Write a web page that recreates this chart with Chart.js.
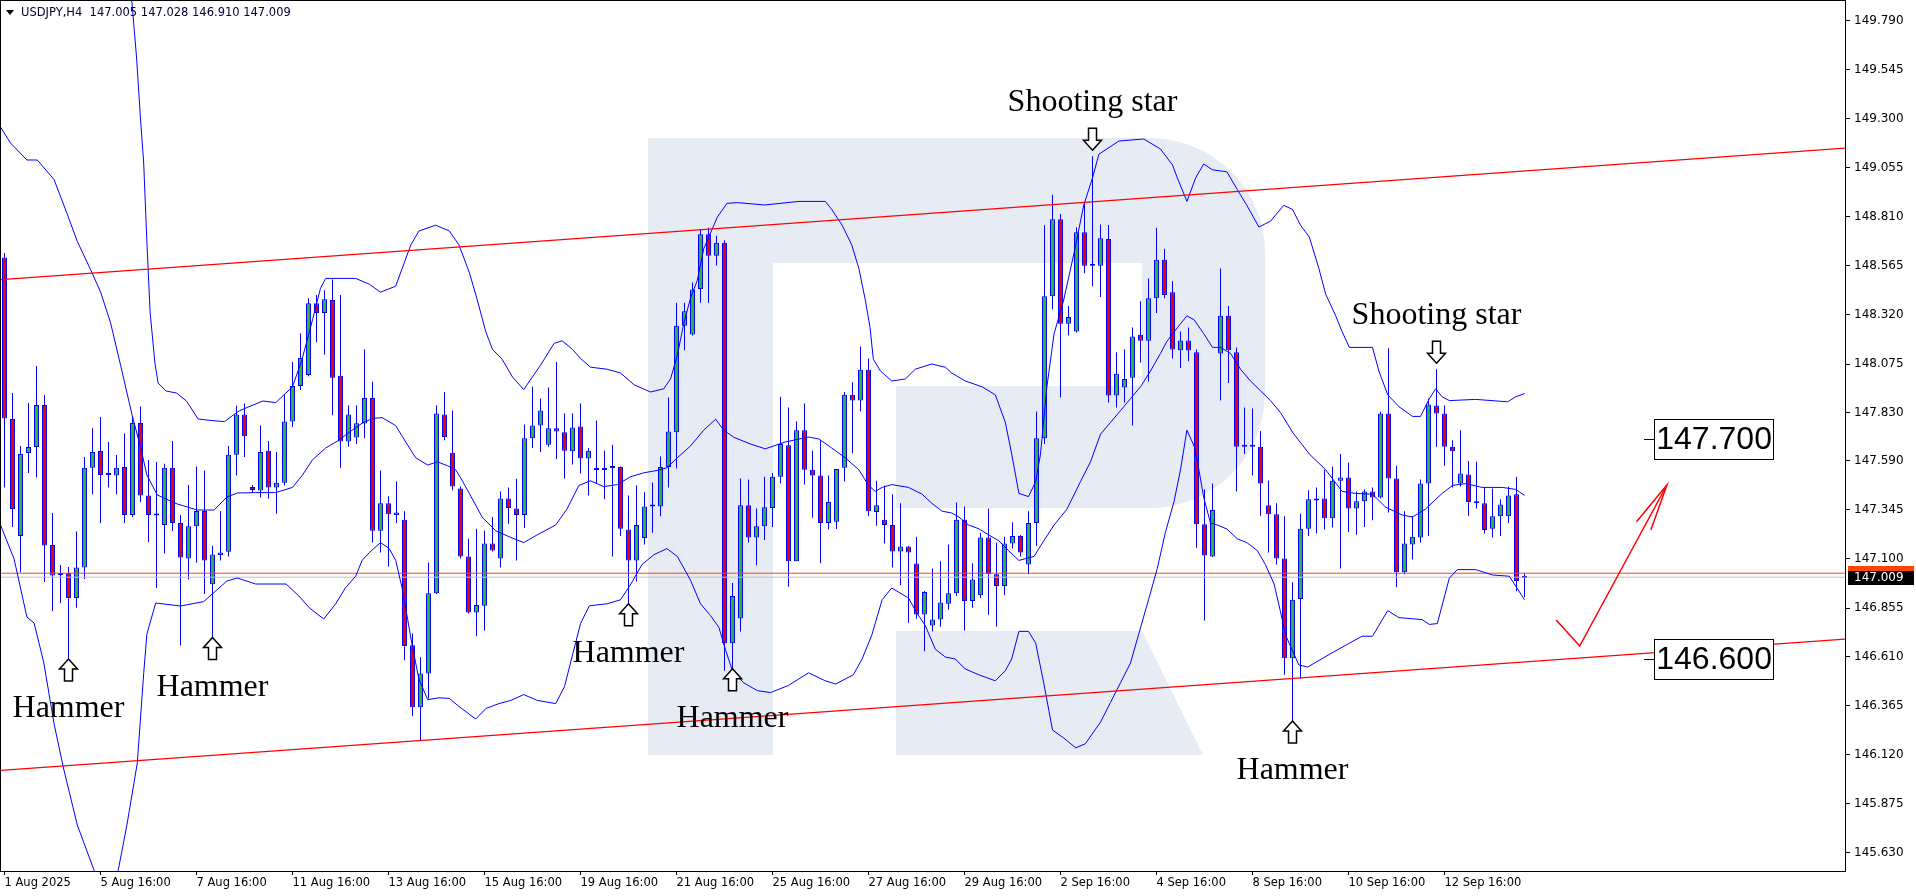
<!DOCTYPE html>
<html>
<head>
<meta charset="utf-8">
<title>USDJPY H4</title>
<script src="https://cdn.jsdelivr.net/npm/chart.js@4.4.1/dist/chart.umd.min.js"></script>
<style>
  html, body { margin: 0; padding: 0; background: #fff; }
  #chart { display: block; }
</style>
</head>
<body>
<canvas id="chart" width="1916" height="896"></canvas>
<script>
// header of the chart window
const symbolTitle = 'USDJPY,H4  147.005 147.028 146.910 147.009';

// time axis: one label every 12 bars
const dateLabels = ['1 Aug 2025', '5 Aug 16:00', '7 Aug 16:00', '11 Aug 16:00', '13 Aug 16:00', '15 Aug 16:00',
  '19 Aug 16:00', '21 Aug 16:00', '25 Aug 16:00', '27 Aug 16:00', '29 Aug 16:00', '2 Sep 16:00',
  '4 Sep 16:00', '8 Sep 16:00', '10 Sep 16:00', '12 Sep 16:00'];
const dateLabelBars = [0, 12, 24, 36, 48, 60, 72, 84, 96, 108, 120, 132, 144, 156, 168, 180];

// price axis
const yTickValues = [149.790, 149.545, 149.300, 149.055, 148.810, 148.565, 148.320, 148.075, 147.830,
  147.590, 147.345, 147.100, 146.855, 146.610, 146.365, 146.120, 145.875, 145.630];

// H4 candles, bar 0 .. 190
const opens = [
  148.608, 147.80, 147.215, 147.63, 147.66, 147.87, 147.17, 147.02, 147.03, 146.905,
  147.057, 147.556, 147.64, 147.52, 147.517, 147.56, 147.32, 147.78, 147.418, 147.32,
  147.27, 147.556, 147.28, 147.103, 147.264, 147.34, 146.974, 147.12, 147.136, 147.621,
  147.823, 147.46, 147.442, 147.641, 147.458, 147.481, 147.787, 147.965, 148.02, 148.379,
  148.33, 148.395, 148.016, 147.688, 147.708, 147.777, 147.905, 147.241, 147.379, 147.32,
  147.296, 146.669, 146.359, 146.527, 146.929, 147.823, 147.631, 147.452, 147.113, 146.832,
  146.866, 147.178, 147.103, 147.403, 147.353, 147.32, 147.704, 147.767, 147.671, 147.754,
  147.734, 147.639, 147.763, 147.602, 147.55, 147.545, 147.555, 147.56, 147.247, 147.093,
  147.205, 147.363, 147.363, 147.56, 147.734, 148.266, 148.223, 148.45, 148.724, 148.616,
  148.681, 146.679, 146.803, 147.369, 147.207, 147.264, 147.355, 147.511, 147.669, 147.089,
  147.744, 147.546, 147.517, 147.28, 147.286, 147.556, 147.921, 147.892, 148.046, 147.335,
  147.296, 147.27, 147.138, 147.162, 147.077, 146.823, 146.767, 146.797, 146.876, 146.929,
  147.296, 146.89, 146.919, 147.207, 147.024, 146.965, 147.178, 147.215, 147.073, 147.28,
  147.704, 148.414, 148.799, 148.276, 148.237, 148.734, 148.566, 148.566, 148.70, 147.917,
  147.957, 148.006, 148.221, 148.191, 148.404, 148.596, 148.434, 148.144, 148.193, 148.134,
  147.274, 147.113, 148.128, 148.316, 148.134, 147.661, 147.671, 147.661, 147.369, 147.324,
  147.103, 146.604, 146.90, 147.251, 147.393, 147.403, 147.304, 147.491, 147.507, 147.353,
  147.389, 147.438, 147.408, 147.827, 147.503, 147.034, 147.172, 147.207, 147.477, 147.868,
  147.827, 147.661, 147.477, 147.523, 147.379, 147.379, 147.251, 147.314, 147.314, 147.424,
  147.005
];
const highs = [
  148.63, 147.93, 147.665, 147.88, 148.065, 147.92, 147.33, 147.07, 147.06, 147.237,
  147.61, 147.754, 147.81, 147.685, 147.62, 147.728, 147.81, 147.862, 147.595, 147.585,
  147.576, 147.69, 147.32, 147.47, 147.562, 147.543, 147.166, 147.34, 147.665, 147.866,
  147.878, 147.47, 147.767, 147.69, 147.635, 147.921, 148.085, 148.227, 148.404, 148.42,
  148.444, 148.497, 148.42, 147.868, 147.868, 148.148, 147.986, 147.543, 147.414, 147.487,
  147.339, 146.728, 146.61, 147.083, 147.868, 147.935, 147.842, 147.462, 147.201, 147.251,
  147.241, 147.31, 147.438, 147.458, 147.501, 147.773, 147.961, 147.902, 147.957, 148.085,
  147.827, 147.827, 147.878, 147.655, 147.793, 147.641, 147.671, 147.562, 147.418, 147.468,
  147.434, 147.483, 147.612, 147.907, 148.381, 148.381, 148.483, 148.75, 148.756, 148.716,
  148.694, 146.98, 147.503, 147.497, 147.353, 147.511, 147.53, 147.911, 147.858, 147.787,
  147.878, 147.641, 147.694, 147.517, 147.55, 147.935, 147.984, 148.162, 148.103, 147.491,
  147.468, 147.424, 147.379, 147.165, 147.211, 146.94, 147.053, 147.089, 147.172, 147.383,
  147.363, 147.079, 147.231, 147.353, 147.182, 147.211, 147.284, 147.22, 147.339, 147.838,
  148.769, 148.921, 148.825, 148.365, 148.759, 148.888, 149.114, 148.773, 148.77, 148.134,
  148.148, 148.257, 148.389, 148.503, 148.756, 148.651, 148.489, 148.237, 148.257, 148.148,
  147.448, 147.477, 148.552, 148.365, 148.158, 147.858, 147.852, 147.74, 147.493, 147.379,
  147.314, 146.984, 147.326, 147.444, 147.458, 147.546, 147.562, 147.625, 147.582, 147.438,
  147.448, 147.458, 147.836, 148.154, 147.566, 147.339, 147.314, 147.497, 147.902, 148.049,
  147.868, 147.694, 147.744, 147.59, 147.586, 147.458, 147.452, 147.399, 147.462, 147.511,
  147.028
];
const lows = [
  147.458, 147.26, 147.034, 147.53, 147.507, 146.985, 146.84, 146.88, 146.59, 146.856,
  147.0, 147.424, 147.28, 147.458, 147.424, 147.28, 147.31, 147.385, 147.185, 146.955,
  147.128, 147.24, 146.668, 146.998, 147.083, 146.925, 146.698, 147.093, 147.113, 147.517,
  147.61, 147.43, 147.408, 147.403, 147.326, 147.468, 147.76, 147.945, 148.014, 148.184,
  148.122, 147.819, 147.556, 147.661, 147.675, 147.704, 147.182, 147.132, 147.063, 147.28,
  146.594, 146.314, 146.19, 146.403, 146.925, 147.694, 147.444, 147.103, 146.827, 146.714,
  146.742, 147.138, 147.057, 147.276, 147.093, 147.255, 147.655, 147.635, 147.661, 147.6,
  147.503, 147.572, 147.527, 147.418, 147.477, 147.399, 147.113, 147.215, 146.866, 146.988,
  147.172, 147.231, 147.314, 147.458, 147.552, 148.144, 148.217, 148.381, 148.381, 148.568,
  146.541, 146.541, 146.738, 147.182, 147.069, 147.195, 147.26, 147.477, 146.961, 147.089,
  147.472, 147.306, 147.079, 147.247, 147.25, 147.487, 147.629, 147.838, 147.314, 147.266,
  147.178, 147.057, 146.969, 146.781, 146.801, 146.639, 146.738, 146.761, 146.846, 146.915,
  146.742, 146.856, 146.905, 146.821, 146.763, 146.919, 147.152, 147.113, 147.024, 147.166,
  147.675, 148.349, 147.907, 148.217, 148.233, 148.529, 148.464, 148.41, 147.882, 147.858,
  147.882, 147.767, 148.083, 147.986, 148.33, 148.404, 148.103, 148.055, 148.089, 147.156,
  146.793, 147.11, 147.892, 147.98, 147.438, 147.625, 147.517, 147.316, 147.132, 147.073,
  146.521, 146.28, 146.501, 147.215, 147.227, 147.247, 147.257, 147.053, 147.235, 147.221,
  147.26, 147.294, 147.403, 147.333, 146.959, 147.024, 147.097, 147.182, 147.215, 147.661,
  147.566, 147.458, 147.462, 147.316, 147.353, 147.227, 147.207, 147.215, 147.28, 146.939,
  146.91
];
const closes = [
  147.803, 147.35, 147.625, 147.66, 147.87, 147.168, 147.018, 147.03, 146.905, 147.057,
  147.556, 147.635, 147.52, 147.522, 147.556, 147.32, 147.78, 147.418, 147.32, 147.318,
  147.556, 147.28, 147.108, 147.264, 147.34, 147.093, 147.122, 147.132, 147.621, 147.823,
  147.714, 147.445, 147.635, 147.458, 147.481, 147.787, 147.965, 148.105, 148.379, 148.33,
  148.399, 148.006, 147.688, 147.823, 147.779, 147.905, 147.241, 147.379, 147.324, 147.333,
  146.665, 146.359, 146.527, 146.929, 147.827, 147.71, 147.462, 147.113, 146.832, 146.87,
  147.178, 147.142, 147.403, 147.355, 147.32, 147.704, 147.767, 147.842, 147.754, 147.738,
  147.641, 147.758, 147.602, 147.641, 147.545, 147.555, 147.56, 147.251, 147.093, 147.27,
  147.363, 147.365, 147.56, 147.738, 148.266, 148.339, 148.448, 148.724, 148.616, 148.681,
  146.679, 146.915, 147.369, 147.207, 147.264, 147.359, 147.511, 147.675, 147.089, 147.744,
  147.546, 147.517, 147.28, 147.385, 147.55, 147.921, 147.892, 148.046, 147.339, 147.369,
  147.27, 147.138, 147.162, 147.132, 146.823, 146.935, 146.797, 146.882, 146.929, 147.296,
  146.89, 146.998, 147.207, 147.024, 146.965, 147.178, 147.215, 147.132, 147.28, 147.704,
  148.414, 148.799, 148.276, 148.31, 148.734, 148.566, 148.568, 148.704, 147.917, 148.026,
  148.0, 148.213, 148.191, 148.404, 148.596, 148.42, 148.148, 148.193, 148.142, 147.274,
  147.118, 147.345, 148.316, 148.144, 147.661, 147.671, 147.661, 147.477, 147.324, 147.103,
  146.604, 146.896, 147.251, 147.399, 147.403, 147.304, 147.491, 147.507, 147.353, 147.389,
  147.438, 147.408, 147.827, 147.503, 147.034, 147.178, 147.211, 147.477, 147.872, 147.828,
  147.661, 147.639, 147.527, 147.385, 147.389, 147.245, 147.314, 147.373, 147.418, 146.99,
  147.009
];

// Bollinger bands as [bar, price]
const upperBand = [
  [-0.5, 151.2], [4, 151.41], [8, 151.6], [12, 151.5], [14, 150.85], [15, 150.3], [16, 149.85], [16.5, 149.61],
  [17, 149.3], [17.4, 149.08], [17.75, 148.73], [18.2, 148.335], [18.8, 148.08], [19.2, 147.98], [20.2, 147.94],
  [21.5, 147.93], [22.75, 147.89], [24.2, 147.8], [25.7, 147.793], [27.5, 147.787], [28.6, 147.82], [29.4, 147.842],
  [32.3, 147.89], [33.9, 147.882], [36, 147.961], [37.2, 148.099], [38.5, 148.296], [39.5, 148.454], [40.15, 148.503],
  [43.9, 148.503], [45.6, 148.474], [47, 148.434], [48.9, 148.464], [49.7, 148.552], [50.8, 148.671], [51.8, 148.74],
  [53.9, 148.769], [55.6, 148.74], [56.8, 148.671], [58.1, 148.533], [59.1, 148.395], [60.15, 148.237], [61, 148.148],
  [62.2, 148.099], [63.5, 148.01], [64.9, 147.947], [67, 148.069], [68.7, 148.178], [69.7, 148.191], [71, 148.148],
  [72, 148.103], [73.25, 148.059], [75.3, 148.049], [77, 148.03], [78.7, 147.971], [80.75, 147.935], [82.4, 147.951],
  [83.25, 148.0], [84.1, 148.118], [84.9, 148.276], [85.75, 148.404], [86.6, 148.493], [87.4, 148.651], [88.25, 148.73],
  [89.1, 148.809], [90.3, 148.878], [91.6, 148.882], [95, 148.87], [99.3, 148.888], [102.6, 148.888], [103.4, 148.848],
  [104.7, 148.769], [105.9, 148.671], [106.8, 148.552], [107.6, 148.395], [108.2, 148.256], [108.6, 148.099],
  [109.5, 148.04], [110.9, 147.99], [112.6, 148.0], [113.85, 148.049], [115.9, 148.075], [117.6, 148.059],
  [118.4, 148.03], [120.1, 147.99], [122.2, 147.961], [123.85, 147.921], [125.1, 147.783], [125.9, 147.625],
  [126.8, 147.428], [128, 147.412], [128.9, 147.487], [129.5, 147.625], [130.3, 147.961], [131.2, 148.227],
  [132.4, 148.395], [133.7, 148.631], [134.9, 148.868], [136, 149.006], [136.8, 149.124], [139.3, 149.19],
  [142.4, 149.2], [144.5, 149.15], [146, 149.07], [146.6, 149.006], [147.8, 148.888], [148.9, 149.006],
  [149.9, 149.075], [151, 149.046], [152.8, 149.036], [154.1, 148.947], [155.3, 148.868], [156.8, 148.76],
  [158.25, 148.789], [159.9, 148.868], [161, 148.848], [162, 148.769], [163.1, 148.71], [164.3, 148.552],
  [165.15, 148.424], [166.4, 148.316], [167.2, 148.237], [168.1, 148.158], [171, 148.158], [171.8, 148.04],
  [172.9, 147.921], [174.3, 147.862], [176, 147.813], [177, 147.813], [178.1, 147.901], [178.9, 147.951],
  [179.7, 147.911], [180.6, 147.892], [183.9, 147.898], [187.9, 147.886], [188.9, 147.911], [190, 147.927]
];
const middleBand = [
  [-0.5, 149.26], [0.75, 149.18], [2.8, 149.095], [4.1, 149.095], [6.2, 148.997], [7.8, 148.829], [9.1, 148.688],
  [10.75, 148.548], [12, 148.436], [13.25, 148.282], [14.5, 148.071], [15.95, 147.819], [17, 147.66], [17.8, 147.52],
  [19.1, 147.42], [21.6, 147.375], [24.1, 147.345], [26.2, 147.345], [27.8, 147.41], [29.1, 147.43], [31.4, 147.432],
  [33.9, 147.432], [36, 147.458], [37.2, 147.517], [38.5, 147.596], [40.15, 147.655], [41.8, 147.694], [43.1, 147.734],
  [44.7, 147.779], [46, 147.803], [47.2, 147.807], [48.9, 147.767], [50.15, 147.685], [51.4, 147.606], [52.9, 147.57],
  [54.1, 147.586], [55.4, 147.566], [56.4, 147.546], [57, 147.507], [58.1, 147.428], [59.7, 147.31], [61.4, 147.241],
  [63.1, 147.211], [64.9, 147.182], [66.6, 147.221], [68.9, 147.27], [70.3, 147.349], [71.8, 147.468], [73.25, 147.491],
  [74.9, 147.462], [76.6, 147.472], [78.25, 147.511], [79.9, 147.531], [81.6, 147.543], [82.8, 147.556], [84.1, 147.606],
  [85.75, 147.665], [87.4, 147.744], [88.9, 147.799], [89.9, 147.744], [91.2, 147.708], [93.25, 147.675], [95.1, 147.651],
  [97.6, 147.685], [100.5, 147.71], [101.8, 147.7], [103.4, 147.655], [105.1, 147.606], [106.8, 147.546], [108, 147.468],
  [108.85, 147.438], [109.7, 147.458], [110.9, 147.472], [113, 147.458], [114.7, 147.424], [115.9, 147.379],
  [117.2, 147.339], [118.4, 147.33], [119.3, 147.31], [120.5, 147.27], [121.8, 147.251], [123, 147.221], [124.3, 147.191],
  [125.5, 147.142], [126.8, 147.093], [128.7, 147.113], [129.9, 147.191], [131.2, 147.27], [132.8, 147.349],
  [134.5, 147.487], [135.75, 147.586], [137, 147.724], [138.25, 147.783], [139.5, 147.842], [140.75, 147.902],
  [142, 147.961], [143.25, 148.04], [144.5, 148.128], [145.3, 148.188], [146.6, 148.256], [147.8, 148.316],
  [148.7, 148.296], [149.9, 148.227], [151, 148.158], [152, 148.158], [153.25, 148.128], [154.5, 148.049],
  [155.75, 147.99], [157, 147.941], [158.25, 147.892], [159.5, 147.832], [161, 147.734], [163.1, 147.625],
  [165.15, 147.546], [167.2, 147.438], [168.9, 147.428], [171, 147.424], [172.65, 147.359], [174.7, 147.32],
  [176, 147.31], [177.6, 147.349], [179.7, 147.428], [181, 147.468], [182.65, 147.477], [184.7, 147.458],
  [187.2, 147.458], [188.9, 147.448], [190, 147.418]
];
const lowerBand = [
  [-0.5, 147.27], [1.2, 147.1], [2.8, 146.81], [3.7, 146.78], [4.9, 146.584], [6.2, 146.275], [7.4, 146.05],
  [9.1, 145.77], [11.6, 145.5], [12.8, 145.4], [14.1, 145.52], [15.3, 145.77], [16.6, 146.08], [17.4, 146.528],
  [17.8, 146.725], [18.9, 146.88], [22, 146.865], [24.9, 146.887], [27.8, 146.99], [29.1, 147.005], [31.4, 146.975],
  [35.2, 146.975], [36.8, 146.915], [38.1, 146.856], [39.9, 146.8], [41.4, 146.876], [42.6, 146.955], [43.9, 147.014],
  [44.7, 147.093], [45.6, 147.132], [47, 147.182], [48.1, 147.152], [48.9, 147.093], [49.7, 146.955], [50.4, 146.797],
  [51, 146.659], [51.8, 146.5], [52.9, 146.397], [54.3, 146.406], [55.6, 146.403], [56.8, 146.363], [58.9, 146.3],
  [60.2, 146.353], [61.8, 146.377], [63.3, 146.393], [64.9, 146.422], [66.6, 146.393], [68.9, 146.377], [70, 146.462],
  [71, 146.62], [72, 146.777], [73.1, 146.866], [75.3, 146.876], [77, 146.896], [78.3, 146.975], [79.7, 147.073],
  [81.2, 147.122], [82.8, 147.152], [84.1, 147.113], [85.75, 146.994], [87, 146.876], [88.25, 146.817], [89.3, 146.758],
  [90.1, 146.649], [91, 146.54], [92.4, 146.481], [94.1, 146.442], [95.75, 146.432], [98, 146.468], [100.5, 146.531],
  [102.6, 146.491], [103.9, 146.475], [106.1, 146.521], [107.2, 146.6], [108.4, 146.718], [109.7, 146.896],
  [110.9, 146.955], [113, 146.905], [114.1, 146.827], [115.1, 146.767], [116.35, 146.649], [117.6, 146.61],
  [118.85, 146.6], [120.1, 146.55], [121.8, 146.521], [123.85, 146.491], [125.1, 146.541], [125.9, 146.6],
  [126.8, 146.738], [128, 146.738], [128.9, 146.679], [129.9, 146.481], [131, 146.245], [132.4, 146.205],
  [133.9, 146.156], [135.1, 146.176], [137, 146.284], [138.25, 146.383], [139.5, 146.481], [140.75, 146.58],
  [141.8, 146.728], [143, 146.896], [144.1, 147.053], [145.1, 147.231], [146.2, 147.389], [147, 147.546],
  [147.8, 147.744], [148.7, 147.665], [149.3, 147.546], [149.9, 147.408], [150.75, 147.28], [151.6, 147.27],
  [152.8, 147.25], [154.1, 147.201], [155.3, 147.182], [156.6, 147.142], [157.6, 147.073], [158.7, 146.975],
  [159.5, 146.836], [160.15, 146.718], [161.8, 146.57], [162.9, 146.56], [165.6, 146.623], [167.2, 146.659],
  [169.7, 146.714], [171, 146.714], [172.9, 146.842], [174.3, 146.807], [177.2, 146.797], [178.1, 146.773],
  [179.1, 146.777], [180.6, 147.004], [181.6, 147.047], [183.9, 147.047], [186, 147.02], [188.1, 147.014],
  [188.9, 146.965], [190, 146.896]
];

// hand drawn channel, forecast arrow and levels
const channelTop = [[-0.5, 148.497], [230.2, 149.155]];
const channelBottom = [[-0.5, 146.043], [230.2, 146.70]];
const forecastPath = [[193.96, 146.795], [196.9, 146.665], [207.8, 147.47]];
const forecastHead = [[204.0, 147.286], [207.8, 147.47], [205.8, 147.245]];
const targetLevels = ['147.700', '146.600'];
const bidPrice = 147.009;
const askPrice = 147.029;

// candlestick patterns marked on the chart
const hammerBars = [8, 26, 78, 91, 161];
const shootingStarBars = [136, 179];

const BLUE = '#0000ff';
const BULL = '#2eb52e';
const BEAR = '#ee0000';
const X_MIN = -0.4375, X_MAX = 230.0625;
const Y_MIN = 145.54, Y_MAX = 149.89;

const toXY = pts => pts.map(([x, y]) => ({x: x, y: y}));
const barIdx = opens.map((o, i) => i);

function hollowArrow(ctx, cx, tipY, dir) {
  const shape = [[0, 0], [9, 10], [4, 10], [4, 22], [-4, 22], [-4, 10], [-9, 10]];
  ctx.beginPath();
  shape.forEach(([dx, dy], k) => {
    const px = cx + dx, py = tipY + dir * dy;
    if (k === 0) ctx.moveTo(px, py); else ctx.lineTo(px, py);
  });
  ctx.closePath();
  ctx.fillStyle = '#fff';
  ctx.fill();
  ctx.lineWidth = 1.5;
  ctx.strokeStyle = '#000';
  ctx.stroke();
}

// broker logo in the background
const watermark = {
  id: 'watermark',
  beforeDatasetsDraw(chart) {
    const c = chart.ctx;
    c.save();
    c.fillStyle = '#e7ebf3';
    c.fillRect(648, 138, 125, 617);
    c.beginPath();
    c.moveTo(773, 138);
    c.lineTo(1150, 138);
    c.arcTo(1265, 138, 1265, 253, 115);
    c.lineTo(1265, 393);
    c.arcTo(1265, 508, 1150, 508, 115);
    c.lineTo(896, 508);
    c.lineTo(896, 386);
    c.lineTo(1142, 386);
    c.lineTo(1142, 263);
    c.lineTo(773, 263);
    c.closePath();
    c.fill();
    c.beginPath();
    c.moveTo(896, 631);
    c.lineTo(1142, 631);
    c.lineTo(1203, 755);
    c.lineTo(896, 755);
    c.closePath();
    c.fill();
    c.restore();
  }
};

const overlay = {
  id: 'overlay',
  afterDatasetsDraw(chart) {
    const {ctx, scales: {x, y}} = chart;
    ctx.save();
    ctx.font = '32px "Liberation Serif"';
    ctx.textAlign = 'center';
    ctx.textBaseline = 'middle';
    hammerBars.forEach(i => {
      const px = x.getPixelForValue(i), py = y.getPixelForValue(lows[i]);
      hollowArrow(ctx, px, py - 2, 1);
      ctx.fillStyle = '#000';
      ctx.fillText('Hammer', px, py + 48);
    });
    shootingStarBars.forEach(i => {
      const px = x.getPixelForValue(i), py = y.getPixelForValue(highs[i]);
      hollowArrow(ctx, px, py - 6, -1);
      ctx.fillStyle = '#000';
      ctx.fillText('Shooting star', px, py - 54);
    });
    // target level boxes
    ctx.font = '32px "Liberation Sans"';
    targetLevels.forEach(v => {
      const left = x.getPixelForValue(206.2), py = y.getPixelForValue(parseFloat(v));
      ctx.fillStyle = '#fff';
      ctx.fillRect(left, py - 20, 119, 40);
      ctx.strokeStyle = '#000';
      ctx.lineWidth = 1;
      ctx.strokeRect(Math.round(left) + 0.5, Math.round(py - 20) + 0.5, 119, 40);
      ctx.beginPath();
      ctx.moveTo(left - 10, Math.round(py) + 0.5);
      ctx.lineTo(left, Math.round(py) + 0.5);
      ctx.stroke();
      ctx.fillStyle = '#000';
      ctx.fillText(v, left + 60, py + 1);
    });
    ctx.restore();
  },
  afterDraw(chart) {
    const {ctx, chartArea: a, scales: {y}} = chart;
    ctx.save();
    ctx.strokeStyle = '#000';
    ctx.lineWidth = 1;
    ctx.strokeRect(a.left - 0.5, a.top - 0.5, a.right - a.left + 1, a.bottom - a.top + 1);
    // header
    ctx.fillStyle = '#000';
    ctx.beginPath();
    ctx.moveTo(6, 10); ctx.lineTo(14, 10); ctx.lineTo(10, 15); ctx.closePath();
    ctx.fill();
    ctx.font = '11.5px "DejaVu Sans"';
    ctx.textAlign = 'left';
    ctx.textBaseline = 'alphabetic';
    ctx.fillStyle = '#000033';
    ctx.fillText(symbolTitle, 21, 16);
    // ask / bid tags on the price axis
    const askY = y.getPixelForValue(askPrice), bidY = y.getPixelForValue(bidPrice);
    ctx.fillStyle = '#ff4500';
    ctx.fillRect(a.right + 3, Math.round(askY) - 7, 66, 14);
    ctx.fillStyle = '#000';
    ctx.fillRect(a.right + 3, Math.round(bidY) - 6, 66, 14);
    ctx.fillStyle = '#fff';
    ctx.font = '12px "DejaVu Sans"';
    ctx.textBaseline = 'middle';
    ctx.fillText(bidPrice.toFixed(3), a.right + 9, Math.round(bidY) + 1);
    ctx.restore();
  }
};

const lineSet = (label, pts, color, width, order) => ({
  type: 'line', label: label, data: toXY(pts), borderColor: color, borderWidth: width,
  pointRadius: 0, tension: 0, fill: false, order: order
});

const canvas = document.getElementById('chart');
const ctx = canvas.getContext('2d');

let chart = new Chart(ctx, {
  type: 'bar',
  data: {
    datasets: [
      lineSet('Upper band', upperBand, BLUE, 1, 1),
      lineSet('Middle band', middleBand, BLUE, 1, 1),
      lineSet('Lower band', lowerBand, BLUE, 1, 1),
      lineSet('Channel top', channelTop, '#ff0000', 1.3, 0),
      lineSet('Channel bottom', channelBottom, '#ff0000', 1.3, 0),
      lineSet('Forecast', forecastPath, '#ff0000', 1.5, 0),
      lineSet('Forecast head', forecastHead, '#ff0000', 1.5, 0),
      lineSet('Ask', [[X_MIN, askPrice], [X_MAX, askPrice]], '#ff4500', 1, 3),
      lineSet('Bid', [[X_MIN, bidPrice], [X_MAX, bidPrice]], '#c0c0c0', 1, 3),
      {
        label: 'Bodies',
        data: barIdx.map(i => ({x: i, y: [opens[i], closes[i]]})),
        backgroundColor: barIdx.map(i => closes[i] >= opens[i] ? BULL : BEAR),
        borderColor: BLUE, borderWidth: 1, borderSkipped: false,
        barThickness: 5, minBarLength: 2, grouped: false, inflateAmount: 0, order: 4
      },
      {
        label: 'Wicks',
        data: barIdx.map(i => ({x: i, y: [lows[i], highs[i]]})),
        backgroundColor: BLUE, borderWidth: 0,
        barThickness: 1, grouped: false, inflateAmount: 0, order: 5
      }
    ]
  },
  options: {
    responsive: false,
    maintainAspectRatio: false,
    animation: false,
    events: [],
    layout: { padding: { left: 1, top: 1, right: 0, bottom: 0 } },
    plugins: { legend: { display: false }, tooltip: { enabled: false } },
    scales: {
      x: {
        type: 'linear', min: X_MIN, max: X_MAX, offset: false,
        afterBuildTicks: s => { s.ticks = dateLabelBars.map(v => ({value: v})); },
        afterFit: s => { s.height = 25; s.paddingLeft = 0; s.paddingRight = 0; },
        ticks: {
          autoSkip: false, maxRotation: 0, align: 'start', padding: 1, color: '#000',
          font: { family: 'DejaVu Sans', size: 11.5 },
          callback: v => { const k = dateLabelBars.indexOf(v); return k >= 0 ? dateLabels[k] : ''; }
        },
        grid: { drawOnChartArea: false, offset: false, tickLength: 4, color: '#000' },
        border: { display: false }
      },
      y: {
        position: 'right', min: Y_MIN, max: Y_MAX, beginAtZero: false,
        afterBuildTicks: s => { s.ticks = yTickValues.map(v => ({value: v})); },
        afterFit: s => { s.width = 71; s.paddingTop = 0; s.paddingBottom = 0; },
        ticks: {
          padding: 4, color: '#000', font: { family: 'DejaVu Sans', size: 12 },
          callback: v => v.toFixed(3)
        },
        grid: { drawOnChartArea: false, tickLength: 5, color: '#000' },
        border: { display: false }
      }
    }
  },
  plugins: [watermark, overlay]
});
</script>
</body>
</html>
